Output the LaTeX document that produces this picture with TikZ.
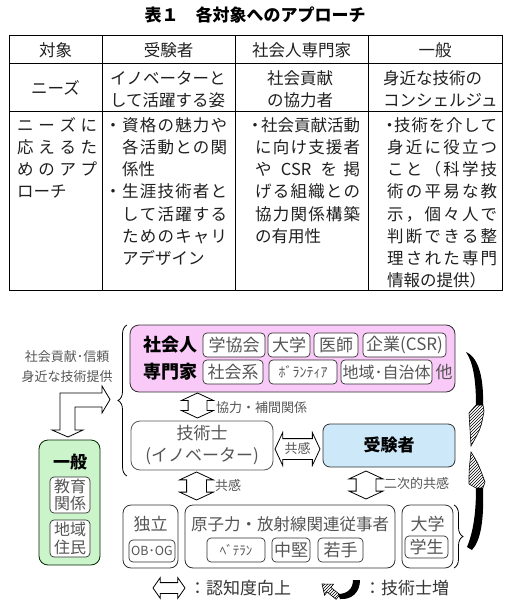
\documentclass[tikz,border=0pt]{standalone}
\usepackage{fontspec}
\setmainfont{Noto Sans CJK JP}
\usetikzlibrary{shapes.arrows,patterns,decorations.pathreplacing}
\definecolor{pinkf}{HTML}{F9C9F7}
\definecolor{greenf}{HTML}{CCF4CB}
\definecolor{bluef}{HTML}{CDE8F9}
\definecolor{txg}{HTML}{555555}
\definecolor{bdr}{HTML}{303030}
\makeatletter
\def\spr@a#1{#1\spr@b}
\def\spr@b#1{\ifx\relax#1\else\hfil#1\expandafter\spr@b\fi}
\newcommand\jl[2]{\makebox[#1][s]{\spr@a#2\relax}}
\makeatother
\newcommand\fs[1]{\fontsize{#1}{#1}\selectfont}
\newcommand\fsl[2]{\fontsize{#1}{#2}\selectfont}
\begin{document}
\begin{tikzpicture}[x=1pt,y=-1pt,
  tl/.style={inner sep=0pt, text height=12.6pt, text depth=0pt, font=\fs{16.5}, text=black!88},
  tlw/.style={tl, anchor=west},
  tbl/.style={line width=1pt, black},
  box/.style={draw=bdr, line width=0.8pt, rounded corners=9pt, inner sep=0pt},
  sub/.style={draw=bdr, line width=0.7pt, rounded corners=4pt, fill=white, inner sep=0pt, text=txg, font=\fs{17}, minimum height=24pt},
  lbl/.style={inner sep=0pt, text=txg, font=\fs{13}},
  darr/.style={double arrow, draw=black, fill=white, line width=0.8pt, inner xsep=0pt, inner ysep=9pt, double arrow tip angle=130, double arrow head extend=6.5pt, minimum width=31pt},
  hatch/.style={pattern=north east lines, line width=0.6pt}
]
\useasboundingbox (0,0) rectangle (509,615);
% ---------- table ----------
\node[font=\bfseries\fs{17}, inner sep=0pt] (title) at (255,15) {表１　各対象へのアプローチ};
\draw[tbl] (9,36) rectangle (502,290);
\draw[tbl] (9,64) -- (502,64);
\draw[tbl] (9,112) -- (502,112);
\foreach \xx in {102,235,368} \draw[tbl] (\xx,36) -- (\xx,290);
\node[tl] (h1) at (55.5,50) {対象};
\node[tl] (h2) at (168.5,50) {受験者};
\node[tl] (h3) at (301.5,50) {社会人専門家};
\node[tl] (h4) at (435,50) {一般};
\node[tl] (n1) at (55.5,88) {ニーズ};
\node[tlw] (n2a) at (110,78) {イノベーターと};
\node[tlw] (n2b) at (110,100) {して活躍する姿};
\node[tl] (n3a) at (300,78) {社会貢献};
\node[tl] (n3b) at (300,100) {の協力者};
\node[tlw] (n4a) at (383,78) {身近な技術の};
\node[tlw] (n4b) at (383,100) {コンシェルジュ};
\foreach \t [count=\i] in {{\jl{80pt}{ニーズに}},{\jl{80pt}{応えるた}},{\jl{80pt}{めのアプ}},{ローチ}}
  \node[tlw] (ra\i) at (17,{125+22.2*(\i-1)}) {\t};
\foreach \t [count=\i] in {{\makebox[18pt]{・}\jl{105pt}{資格の魅力や}},{\hspace*{18pt}\jl{105pt}{各活動との関}},{\hspace*{18pt}係性},{\makebox[18pt]{・}\jl{105pt}{生涯技術者と}},{\hspace*{18pt}\jl{105pt}{して活躍する}},{\hspace*{18pt}\jl{105pt}{ためのキャリ}},{\hspace*{18pt}アデザイン}}
  \node[tlw] (rb\i) at (104,{125+22.2*(\i-1)}) {\t};
\foreach \t [count=\i] in {{\makebox[12pt]{・}社会貢献活動},{\hspace*{6pt}\jl{105pt}{に向け支援者}},{\hspace*{6pt}\jl{105pt}{や{\,CSR\,}を掲}},{\hspace*{6pt}\jl{105pt}{げる組織との}},{\hspace*{6pt}\jl{105pt}{協力関係構築}},{\hspace*{6pt}の有用性}}
  \node[tlw] (rc\i) at (249,{125+22.2*(\i-1)}) {\t};
\foreach \t [count=\i] in {{\makebox[9pt]{・}\jl{103pt}{技術を介して}},{\hspace*{2pt}\jl{110pt}{身近に役立つ}},{\hspace*{2pt}\jl{110pt}{こと（科学技}},{\hspace*{2pt}\jl{110pt}{術の平易な教}},{\hspace*{2pt}\jl{110pt}{示，個々人で}},{\hspace*{2pt}\jl{110pt}{判断できる整}},{\hspace*{2pt}\jl{110pt}{理された専門}},{\hspace*{2pt}情報の提供）}}
  \node[tlw] (rd\i) at (385,{125+22.2*(\i-1)}) {\t};
% ---------- diagram ----------
\node[box, fill=pinkf, minimum width=325pt, minimum height=67pt] (pro) at (292.5,358.5) {};
\node[font=\bfseries\fs{18}, inner sep=0pt] (pro1) at (170,345) {社会人};
\node[font=\bfseries\fs{18}, inner sep=0pt] (pro2) at (170,372) {専門家};
\node[sub, minimum width=62pt] (s1) at (234,345) {学協会};
\node[sub, minimum width=42pt] (s2) at (289,345) {大学};
\node[sub, minimum width=44pt] (s3) at (336,345) {医師};
\node[sub, minimum width=83pt] (s4) at (404.5,345) {企業(CSR)};
\node[sub, minimum width=60pt] (s5) at (233,372) {社会系};
\node[sub, minimum width=68pt, font=\fs{14}] (s6) at (303,372) {ﾎﾞﾗﾝﾃｨｱ};
\node[sub, minimum width=91pt, font=\fs{16}] (s7) at (386.5,372) {地域･自治体};
\node[lbl, font=\fs{17}] (s8) at (444,372) {他};

\node[box, fill=greenf, draw=black!75!green!60!black, minimum width=61pt, minimum height=125pt] (gen) at (69.5,502.5) {};
\node[font=\bfseries\fs{17}, inner sep=0pt] (gen1) at (70,462) {一般};
\node[sub, minimum width=40pt, minimum height=36pt, align=center, font=\fsl{16}{17.5}] (g1) at (70,495) {教育\\関係};
\node[sub, minimum width=40pt, minimum height=37pt, align=center, font=\fsl{16}{17.5}] (g2) at (70,538.5) {地域\\住民};

\node[box, fill=white, draw=txg, minimum width=142pt, minimum height=49pt, align=center, text=txg, font=\fsl{17}{22}] (gs) at (202,445.5) {技術士\\(イノベーター)};
\node[box, fill=bluef, rounded corners=7pt, minimum width=132pt, minimum height=43pt, font=\bfseries\fs{17}] (jk) at (389,445.5) {受験者};

\node[box, rounded corners=8pt, minimum width=55pt, minimum height=63pt] (ind) at (150.5,536.5) {};
\node[text=txg, font=\fs{17}, inner sep=0pt] (ind1) at (150.5,524) {独立};
\node[sub, minimum width=46pt, minimum height=22pt, font=\fs{12.5}] (ind2) at (152,551) {OB･OG};
\node[box, rounded corners=8pt, minimum width=210pt, minimum height=63pt] (nuc) at (290,536.5) {};
\node[text=txg, font=\fs{16.5}, inner sep=0pt] (nuc1) at (290,524) {原子力・放射線関連従事者};
\node[sub, minimum width=58pt, font=\fs{13}] (v1) at (236,550) {ﾍﾞﾃﾗﾝ};
\node[sub, minimum width=38pt] (v2) at (291,550) {中堅};
\node[sub, minimum width=45pt] (v3) at (340.5,550) {若手};
\node[box, rounded corners=8pt, minimum width=51pt, minimum height=63pt] (uni) at (427.5,536.5) {};
\node[text=txg, font=\fs{17}, inner sep=0pt] (uni1) at (427.5,524) {大学};
\node[sub, minimum width=43pt, minimum height=22pt] (uni2) at (426.5,547) {学生};

% double arrows
\node[darr, rotate=90, minimum height=25pt] (a1) at (197.5,405.5) {};
\node[lbl, anchor=west] (a1l) at (216,408) {協力・補間関係};
\node[darr, minimum height=45pt, minimum width=32pt, inner ysep=4pt, text height=10pt, text depth=2pt, double arrow head extend=6pt, font=\fs{13}, text=txg] (a2) at (297.5,449) {共感};
\node[darr, rotate=90, minimum height=28pt, minimum width=33pt, inner ysep=9.5pt, double arrow head extend=7pt] (a3) at (196.5,486) {};
\node[lbl, anchor=west] (a3l) at (215,486) {共感};
\node[darr, rotate=90, minimum height=28pt, minimum width=33pt, inner ysep=9.5pt, double arrow head extend=7pt] (a4) at (366,485) {};
\node[lbl, anchor=west] (a4l) at (384,484) {二次的共感};

% braces
\draw[decorate, decoration={brace, amplitude=9pt}, line width=0.8pt] (127,476) -- (127,325);
\draw[decorate, decoration={brace, amplitude=9pt}, line width=0.8pt] (454,505) -- (454,568);

% left labels and bent arrow
\node[lbl] (l1) at (67,357) {社会貢献･信頼};
\node[lbl] (l2) at (67,377) {身近な技術提供};
\draw[line width=0.8pt, fill=white] (68,437) -- (83,430) -- (75,430) -- (75,407) -- (102,407) -- (102,413) -- (110,399.5) -- (102,386) -- (102,393) -- (60,393) -- (60,430) -- (52,430) -- cycle;

% right twisted arrows
\fill (466,352) .. controls (476,356) and (484,372) .. (483,405) -- (476,405) .. controls (476,380) and (473,362) .. (466,352) -- cycle;
\draw[hatch] (476,405) -- (483,405) -- (484,411) .. controls (481,428) .. (471,446) .. controls (470,430) .. (469,413) -- cycle;
\draw[hatch] (471,452) .. controls (478,463) .. (485,482) -- (483,488) -- (476,488) -- (469,484) .. controls (469,470) .. (471,452) -- cycle;
\fill (476,488) -- (483,488) .. controls (484,520) and (481,540) .. (472,550) -- (467,547) .. controls (474,530) and (476,510) .. (476,488) -- cycle;

% legend
\node[darr, minimum height=32pt, minimum width=20pt, inner ysep=5pt, double arrow head extend=5pt, double arrow tip angle=110] (lg1) at (169,588) {};
\node[inner sep=0pt, font=\fs{17}, text=black!80, anchor=west] (lg1t) at (189,588) {：認知度向上};
\fill (353,580) -- (360,580) .. controls (360,592) and (352,600) .. (340,599) -- (338,594) .. controls (347,594) and (353,589) .. (353,580) -- cycle;
\draw[hatch] (339.9,594.7) -- (330.9,587.4) -- (333.4,584.2) -- (322,584) -- (324.6,595.2) -- (327.1,592.0) -- (336.1,599.3) -- cycle;
\node[inner sep=0pt, font=\fs{17}, text=black!80, anchor=west] (lg2t) at (364,588) {：技術士増};
\end{tikzpicture}
\end{document}
